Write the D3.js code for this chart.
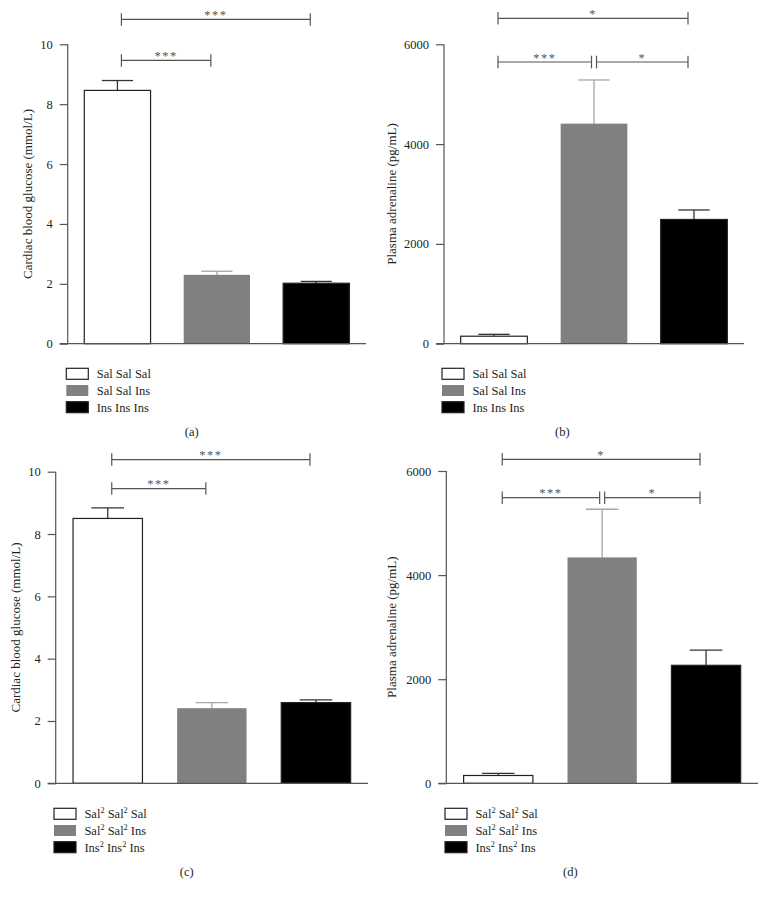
<!DOCTYPE html>
<html>
<head>
<meta charset="utf-8">
<script src="https://cdn.jsdelivr.net/npm/d3@7"></script>
<style>
  html, body { margin: 0; padding: 0; background: #fff; }
  svg text { font-family: "Liberation Serif", "Times New Roman", serif; fill: #231f20; }
</style>
</head>
<body>
<svg id="chart" width="766" height="897"></svg>
<script>
// ---------------- data ----------------
const groupKeys = ["g1", "g2", "g3"];
const legendLabelsAB = ["Sal Sal Sal", "Sal Sal Ins", "Ins Ins Ins"];
const legendLabelsCD = ["Sal^2 Sal^2 Sal", "Sal^2 Sal^2 Ins", "Ins^2 Ins^2 Ins"];

const glucoseTicks = [0, 2, 4, 6, 8, 10];
const adrenalineTicks = [0, 2000, 4000, 6000];

const glucoseA = [8.46, 2.30, 2.02];
const glucoseAErr = [0.33, 0.12, 0.06];
const adrenalineB = [150, 4410, 2490];
const adrenalineBErr = [38, 875, 190];
const glucoseC = [8.50, 2.41, 2.59];
const glucoseCErr = [0.34, 0.18, 0.09];
const adrenalineD = [150, 4340, 2267];
const adrenalineDErr = [40, 925, 290];

// significance comparisons: [from group, to group, label, level in data units]
const sigA = [[0, 2, "***", 10.83], [0, 1, "***", 9.46]];
const sigB = [[0, 2, "*", 6521], [0, 1, "***", 5645], [1, 2, "*", 5645]];
const sigC = [[0, 2, "***", 10.39], [0, 1, "***", 9.46]];
const sigD = [[0, 2, "*", 6225], [0, 1, "***", 5487], [1, 2, "*", 5487]];

const yLabelGlucose = "Cardiac blood glucose (mmol/L)";
const yLabelAdrenaline = "Plasma adrenaline (pg/mL)";
const captions = ["(a)", "(b)", "(c)", "(d)"];

// ---------------- layout ----------------
const fills = ["#ffffff", "#808080", "#000000"];
const errColors = ["#333333", "#a6a6a6", "#333333"];

const panels = [
  { values: glucoseA, errs: glucoseAErr, ticks: glucoseTicks, max: 10, sig: sigA, legend: legendLabelsAB,
    ylabel: yLabelGlucose, caption: captions[0],
    x0: 67.7, x1: 366, yTop: 44.3, yBot: 343.7, labelX: 27.7, legX: 66.3, legY: 368.3, capX: 191.7, capY: 432 },
  { values: adrenalineB, errs: adrenalineBErr, ticks: adrenalineTicks, max: 6000, sig: sigB, legend: legendLabelsAB,
    ylabel: yLabelAdrenaline, caption: captions[1],
    x0: 444, x1: 744, yTop: 44.3, yBot: 343.7, labelX: 391.3, legX: 442, legY: 368.3, capX: 562.3, capY: 432 },
  { values: glucoseC, errs: glucoseCErr, ticks: glucoseTicks, max: 10, sig: sigC, legend: legendLabelsCD,
    ylabel: yLabelGlucose, caption: captions[2],
    x0: 55.7, x1: 368, yTop: 471.7, yBot: 783.3, labelX: 15, legX: 54, legY: 808.3, capX: 186.7, capY: 872 },
  { values: adrenalineD, errs: adrenalineDErr, ticks: adrenalineTicks, max: 6000, sig: sigD, legend: legendLabelsCD,
    ylabel: yLabelAdrenaline, caption: captions[3],
    x0: 446.3, x1: 758, yTop: 471, yBot: 783.3, labelX: 391.3, legX: 445, legY: 808.3, capX: 570.3, capY: 872 }
];

const svg = d3.select("#chart");

function addLabel(sel, label, size) {
  // parses "^2" into superscripts
  const parts = label.split(/(\^2)/).filter(s => s.length);
  let pendingDy = 0;
  parts.forEach(p => {
    if (p === "^2") {
      sel.append("tspan").attr("font-size", size * 0.66).attr("dy", -5).text("2");
      pendingDy = 5;
    } else {
      const t = sel.append("tspan").attr("font-size", size).text(p);
      if (pendingDy) { t.attr("dy", pendingDy); pendingDy = 0; }
    }
  });
}

panels.forEach(p => {
  const g = svg.append("g");
  const x = d3.scaleBand().domain(groupKeys).range([p.x0, p.x1])
    .paddingInner(1 / 3).paddingOuter(1 / 6);
  const y = d3.scaleLinear().domain([0, p.max]).range([p.yBot, p.yTop]);

  const rows = groupKeys.map((k, i) => ({ k, i, v: p.values[i], e: p.errs[i] }));

  // error bars (upper only)
  const capW = x.bandwidth() * 0.47;
  const eb = g.append("g");
  rows.forEach(d => {
    const cx = x(d.k) + x.bandwidth() / 2;
    eb.append("line").attr("x1", cx).attr("x2", cx)
      .attr("y1", y(d.v)).attr("y2", y(d.v + d.e))
      .attr("stroke", errColors[d.i]).attr("stroke-width", 1.3);
    eb.append("line").attr("x1", cx - capW / 2).attr("x2", cx + capW / 2)
      .attr("y1", y(d.v + d.e)).attr("y2", y(d.v + d.e))
      .attr("stroke", errColors[d.i]).attr("stroke-width", 1.3);
  });

  // bars
  g.append("g").selectAll("rect").data(rows).join("rect")
    .attr("x", d => x(d.k)).attr("width", x.bandwidth())
    .attr("y", d => y(d.v)).attr("height", d => y(0) - y(d.v))
    .attr("fill", d => fills[d.i])
    .attr("stroke", d => d.i === 1 ? "none" : "#222")
    .attr("stroke-width", 1.2);

  // y axis
  const ax = g.append("g").attr("transform", `translate(${p.x0},0)`)
    .call(d3.axisLeft(y).tickValues(p.ticks).tickSize(8).tickPadding(7).tickFormat(d3.format("d")));
  ax.select(".domain").remove();
  ax.selectAll(".tick line").attr("stroke", "#555").attr("stroke-width", 1.2);
  ax.selectAll(".tick text").attr("font-size", 12.5).attr("fill", "#231f20")
    .style("font-family", "'Liberation Serif', 'Times New Roman', serif");

  g.append("line").attr("x1", p.x0).attr("x2", p.x0).attr("y1", p.yTop).attr("y2", p.yBot)
    .attr("stroke", "#555").attr("stroke-width", 1.2);
  g.append("line").attr("x1", p.x0 - 8).attr("x2", p.x1).attr("y1", p.yBot).attr("y2", p.yBot)
    .attr("stroke", "#555").attr("stroke-width", 1.2);

  // y label
  g.append("text")
    .attr("transform", `translate(${p.labelX},${(p.yTop + p.yBot) / 2}) rotate(-90)`)
    .attr("text-anchor", "middle").attr("dy", "0.35em")
    .attr("font-size", 13).text(p.ylabel);

  // significance brackets
  const sg = g.append("g");
  p.sig.forEach(s => {
    const [a, b, lab, lvl] = s;
    const adjL = p.sig.some(o => o !== s && o[1] === a && o[3] === lvl);
    const adjR = p.sig.some(o => o !== s && o[0] === b && o[3] === lvl);
    const xa = x(groupKeys[a]) + x.bandwidth() / 2 + (adjL ? 2.5 : 4);
    const xb = x(groupKeys[b]) + x.bandwidth() / 2 - (adjR ? 2.5 : 6);
    const yy = y(lvl);
    sg.append("line").attr("x1", xa).attr("x2", xb).attr("y1", yy).attr("y2", yy)
      .attr("stroke", "#555").attr("stroke-width", 1.2);
    [xa, xb].forEach(xx => sg.append("line").attr("x1", xx).attr("x2", xx)
      .attr("y1", yy - 6.3).attr("y2", yy + 6.3).attr("stroke", "#555").attr("stroke-width", 1.2));
    sg.append("text").attr("x", (xa + xb) / 2).attr("y", yy - 0.5)
      .attr("text-anchor", "middle").attr("font-size", 12.5).attr("letter-spacing", 1.5)
      .style("fill", "#555").text(lab);
  });

  // legend
  const lg = g.append("g");
  p.legend.forEach((lab, i) => {
    const ty = p.legY + i * 16.7;
    lg.append("rect").attr("x", p.legX).attr("y", ty).attr("width", 22).attr("height", 11)
      .attr("fill", fills[i]).attr("stroke", i === 1 ? "none" : "#222").attr("stroke-width", 1.2);
    const t = lg.append("text").attr("x", p.legX + 30.4).attr("y", ty + 10)
      .attr("font-size", 12.5);
    addLabel(t, lab, 12.5);
  });

  // caption
  g.append("text").attr("x", p.capX).attr("y", p.capY).attr("dy", "0.35em")
    .attr("text-anchor", "middle").attr("font-size", 12.5).text(p.caption);
});
</script>
</body>
</html>
